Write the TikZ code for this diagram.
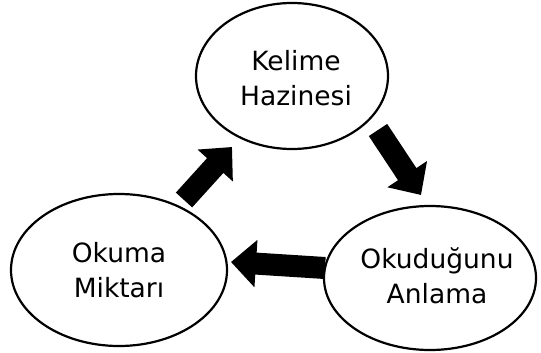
\documentclass[tikz,border=0pt]{standalone}
\usepackage{fontspec}
\setmainfont{DejaVu Sans}
\usetikzlibrary{arrows.meta}
\begin{document}
\begin{tikzpicture}[x=1pt,y=-1pt,
  label/.style={align=center,inner sep=0pt,font=\fontsize{26.5}{35}\selectfont},
  ring/.style={line width=2.2pt},
  blockarrow/.style={line width=22pt,-{Triangle[length=25pt,width=46pt]}}]
\useasboundingbox (0,0) rectangle (541,353);
\draw[ring] (292,76) ellipse [x radius=96, y radius=73];
\node[label] (top) at (296,78) {Kelime\\Hazinesi};
\draw[ring] (119,270) ellipse [x radius=108, y radius=76];
\node[label] (left) at (119,270) {Okuma\\Miktarı};
\draw[ring] (430,278) ellipse [x radius=106, y radius=72];
\node[label] (right) at (437,276) {Okuduğunu\\Anlama};
\coordinate (a1) at (184,200); \coordinate (a2) at (232,147);
\coordinate (b1) at (378,130); \coordinate (b2) at (421,195);
\coordinate (c1) at (325,268); \coordinate (c2) at (231,262);
\draw[blockarrow] (a1) -- (a2);
\draw[blockarrow] (b1) -- (b2);
\draw[blockarrow] (c1) -- (c2);
\end{tikzpicture}
\end{document}
